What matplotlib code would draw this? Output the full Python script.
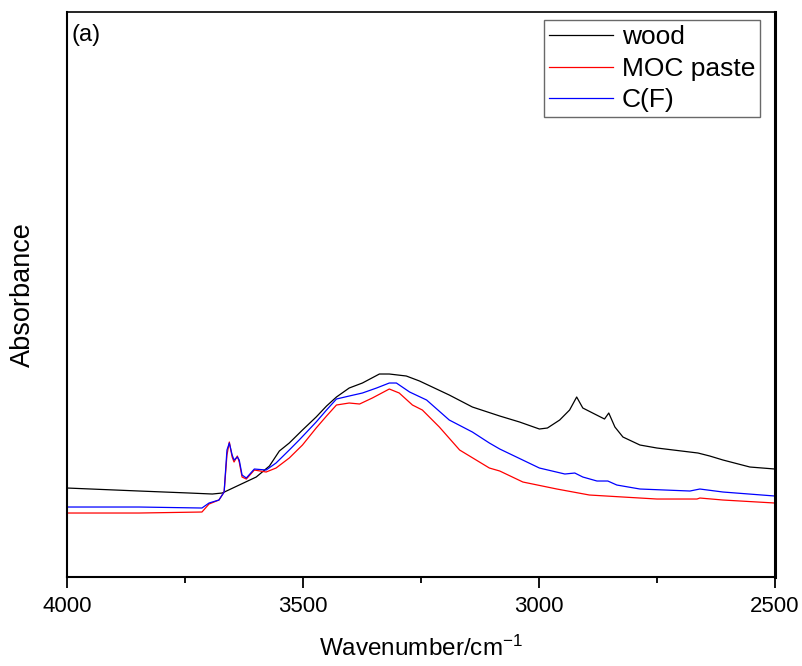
import matplotlib
matplotlib.use("Agg")
import matplotlib.pyplot as plt
from matplotlib.ticker import MultipleLocator

# FTIR spectra, 4000-2500 cm-1 (absorbance in arbitrary units)
wood_wn = [4000, 3847, 3741, 3692, 3671, 3635, 3599, 3571, 3550, 3529, 3501,
           3472, 3450, 3429, 3402, 3374, 3338, 3317, 3281, 3253, 3190, 3141,
           3083, 3041, 2999, 2982, 2956, 2935, 2920, 2907, 2882, 2861, 2852,
           2839, 2822, 2786, 2750, 2663, 2638, 2610, 2553, 2500]
wood_abs = [0.89, 0.86, 0.84, 0.83, 0.84, 0.92, 1.00, 1.11, 1.26, 1.34, 1.47,
            1.60, 1.71, 1.80, 1.89, 1.94, 2.03, 2.03, 2.01, 1.96, 1.82, 1.70,
            1.61, 1.55, 1.48, 1.49, 1.57, 1.67, 1.80, 1.69, 1.63, 1.58, 1.64,
            1.50, 1.40, 1.32, 1.29, 1.24, 1.21, 1.17, 1.10, 1.08]

moc_wn = [4000, 3847, 3714, 3699, 3678, 3667, 3661, 3656, 3650, 3646, 3639,
          3635, 3629, 3620, 3603, 3578, 3557, 3529, 3501, 3472, 3450, 3429,
          3402, 3380, 3353, 3317, 3296, 3268, 3247, 3211, 3168, 3126, 3105,
          3083, 3034, 2962, 2893, 2822, 2750, 2665, 2659, 2610, 2500]
moc_abs = [0.64, 0.64, 0.65, 0.73, 0.77, 0.85, 1.22, 1.35, 1.20, 1.15, 1.21,
           1.15, 1.00, 0.98, 1.07, 1.05, 1.09, 1.19, 1.32, 1.49, 1.61, 1.72,
           1.74, 1.73, 1.79, 1.88, 1.84, 1.72, 1.67, 1.50, 1.27, 1.15, 1.09,
           1.06, 0.95, 0.88, 0.82, 0.80, 0.78, 0.78, 0.79, 0.77, 0.74]

cf_wn = [4000, 3847, 3714, 3699, 3678, 3667, 3661, 3656, 3650, 3646, 3639,
         3635, 3629, 3620, 3603, 3578, 3557, 3529, 3508, 3472, 3450, 3429,
         3402, 3374, 3344, 3317, 3302, 3274, 3238, 3190, 3141, 3105, 3083,
         2999, 2945, 2924, 2907, 2877, 2854, 2835, 2786, 2680, 2659, 2610,
         2500]
cf_abs = [0.70, 0.70, 0.69, 0.74, 0.77, 0.85, 1.27, 1.34, 1.22, 1.17, 1.20,
          1.17, 1.02, 0.99, 1.08, 1.07, 1.14, 1.27, 1.37, 1.55, 1.67, 1.78,
          1.81, 1.84, 1.89, 1.94, 1.94, 1.85, 1.77, 1.57, 1.45, 1.34, 1.28,
          1.09, 1.03, 1.04, 1.00, 0.96, 0.96, 0.92, 0.88, 0.86, 0.88, 0.85,
          0.81]

series_names = ["wood", "MOC paste", "C(F)"]
series_colors = ["black", "red", "blue"]

plt.rcParams["font.family"] = ["Liberation Sans", "DejaVu Sans"]
plt.rcParams["mathtext.default"] = "regular"

fig = plt.figure(figsize=(8.03, 6.66), dpi=100)
ax = fig.add_axes([0.0834, 0.1336, 0.8816, 0.8484])

for wn, ab, name, col in zip([wood_wn, moc_wn, cf_wn],
                             [wood_abs, moc_abs, cf_abs],
                             series_names, series_colors):
    ax.plot(wn, ab, color=col, lw=0.9, label=name)

ax.set_xlim(4000, 2500)
ax.set_ylim(0, 5.65)
ax.xaxis.set_major_locator(MultipleLocator(500))
ax.xaxis.set_minor_locator(MultipleLocator(250))
ax.set_yticks([])
ax.tick_params(axis="x", which="major", direction="out", length=8, width=1.3,
               pad=6, labelsize=16)
ax.tick_params(axis="x", which="minor", direction="out", length=4.5, width=1.3)

for side, w in [("left", 1.5), ("bottom", 1.5), ("top", 1.2), ("right", 2.2)]:
    ax.spines[side].set_linewidth(w)

ax.set_xlabel("Wavenumber/cm$^{-1}$", fontsize=17.5, labelpad=13)
ax.set_ylabel("Absorbance", fontsize=19.5, labelpad=22)

ax.text(0.007, 0.96, "(a)", transform=ax.transAxes, fontsize=17,
        ha="left", va="center")

leg = ax.legend(loc="upper right", bbox_to_anchor=(0.987, 0.995), fontsize=19,
                frameon=True, fancybox=False, edgecolor="#444444",
                handlelength=2.4, handletextpad=0.35, borderpad=0.2,
                labelspacing=0.28, borderaxespad=0.2)
leg.get_frame().set_linewidth(1.0)

fig.savefig("out.png", dpi=100)
